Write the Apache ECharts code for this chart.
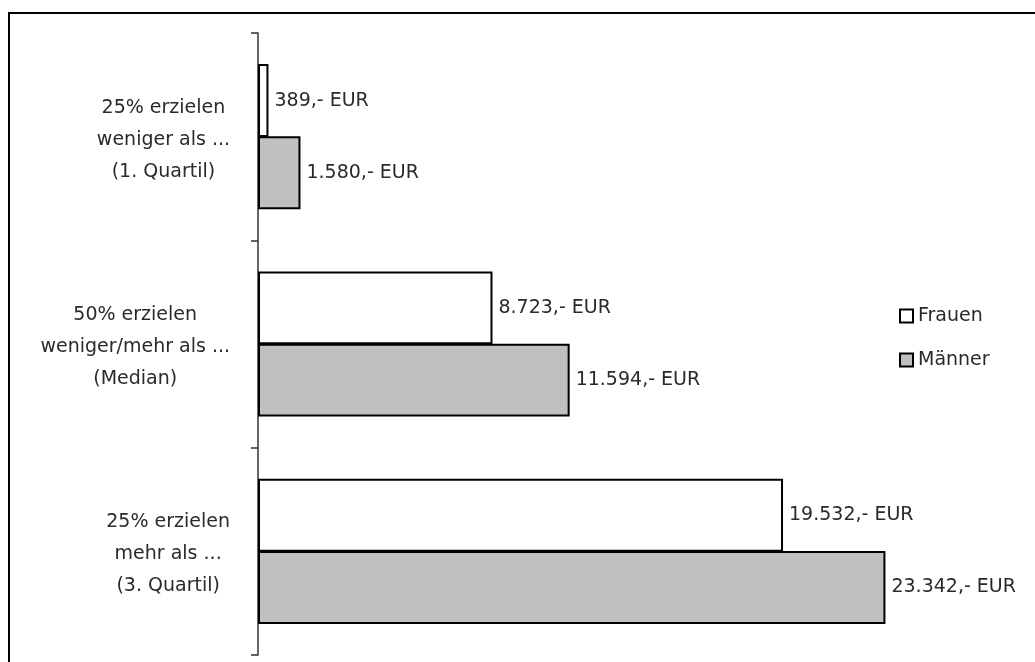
<!DOCTYPE html>
<html>
<head>
<meta charset="utf-8">
<script src="https://cdn.jsdelivr.net/npm/echarts@6/dist/echarts.min.js"></script>
<style>
  html, body { margin: 0; padding: 0; background: #fff; }
  #chart { width: 1035px; height: 662px; }
</style>
</head>
<body>
<div id="chart"></div>
<script>
// Income quartiles, women vs. men (EUR)
const categories = [
  ['25% erzielen', 'weniger als ...', '(1. Quartil)'],
  ['50% erzielen', 'weniger/mehr als ...', '(Median)'],
  ['25% erzielen', 'mehr als ...', '(3. Quartil)']
];
const seriesNames = ['Frauen', 'Männer'];
const frauen = [389, 8723, 19532];
const maenner = [1580, 11594, 23342];

const FONT = '"DejaVu Sans", "Liberation Sans", sans-serif';
const TEXT = '#2a2a2a';

// German thousands separator: 11594 -> "11.594,- EUR"
function eur(v) {
  const s = String(Math.round(v)).replace(/\B(?=(\d{3})+(?!\d))/g, '.');
  return s + ',- EUR';
}

const chart = echarts.init(document.getElementById('chart'), null, { renderer: 'canvas' });

const labelCfg = {
  show: true,
  position: 'right',
  distance: 6,
  fontFamily: FONT,
  fontSize: 19,
  color: TEXT,
  formatter: p => eur(p.value)
};

chart.setOption({
  backgroundColor: '#fff',
  animation: false,
  graphic: [{
    type: 'rect',
    shape: { x: 9, y: 13, width: 1100, height: 700 },
    style: { fill: null, stroke: '#000', lineWidth: 2 },
    silent: true,
    z: 100
  }],
  grid: { left: 258, right: 105, top: 33, bottom: 7, containLabel: false },
  legend: {
    orient: 'vertical',
    left: 894,
    top: 301,
    itemWidth: 13,
    itemHeight: 13,
    itemGap: 24,
    icon: 'rect',
    textStyle: { fontFamily: FONT, fontSize: 19, color: TEXT, lineHeight: 20 },
    itemStyle: { borderColor: '#000', borderWidth: 2 },
    data: seriesNames
  },
  xAxis: {
    type: 'value',
    min: 0,
    max: 25000,
    show: false
  },
  yAxis: {
    type: 'category',
    inverse: true,
    data: categories.map(c => c.join('\n')),
    axisLine: { show: true, lineStyle: { color: '#333', width: 1.5 } },
    axisTick: { show: true, length: 7, lineStyle: { color: '#333', width: 1.5 } },
    axisLabel: {
      margin: 28,
      padding: [6, 0, 0, 0],
      formatter: v => v.split('\n').map(l => '{c|' + l + '}').join('\n'),
      rich: {
        c: { align: 'center', fontFamily: FONT, fontSize: 19, lineHeight: 32, color: TEXT }
      }
    },
    splitLine: { show: false }
  },
  series: [
    {
      name: seriesNames[0],
      type: 'bar',
      data: frauen,
      barGap: '-1%',
      barCategoryGap: '30%',
      itemStyle: { color: '#ffffff', borderColor: '#000', borderWidth: 2 },
      label: labelCfg
    },
    {
      name: seriesNames[1],
      type: 'bar',
      data: maenner,
      barGap: '-1%',
      barCategoryGap: '30%',
      itemStyle: { color: '#c0c0c0', borderColor: '#000', borderWidth: 2 },
      label: labelCfg
    }
  ]
});
</script>
</body>
</html>
